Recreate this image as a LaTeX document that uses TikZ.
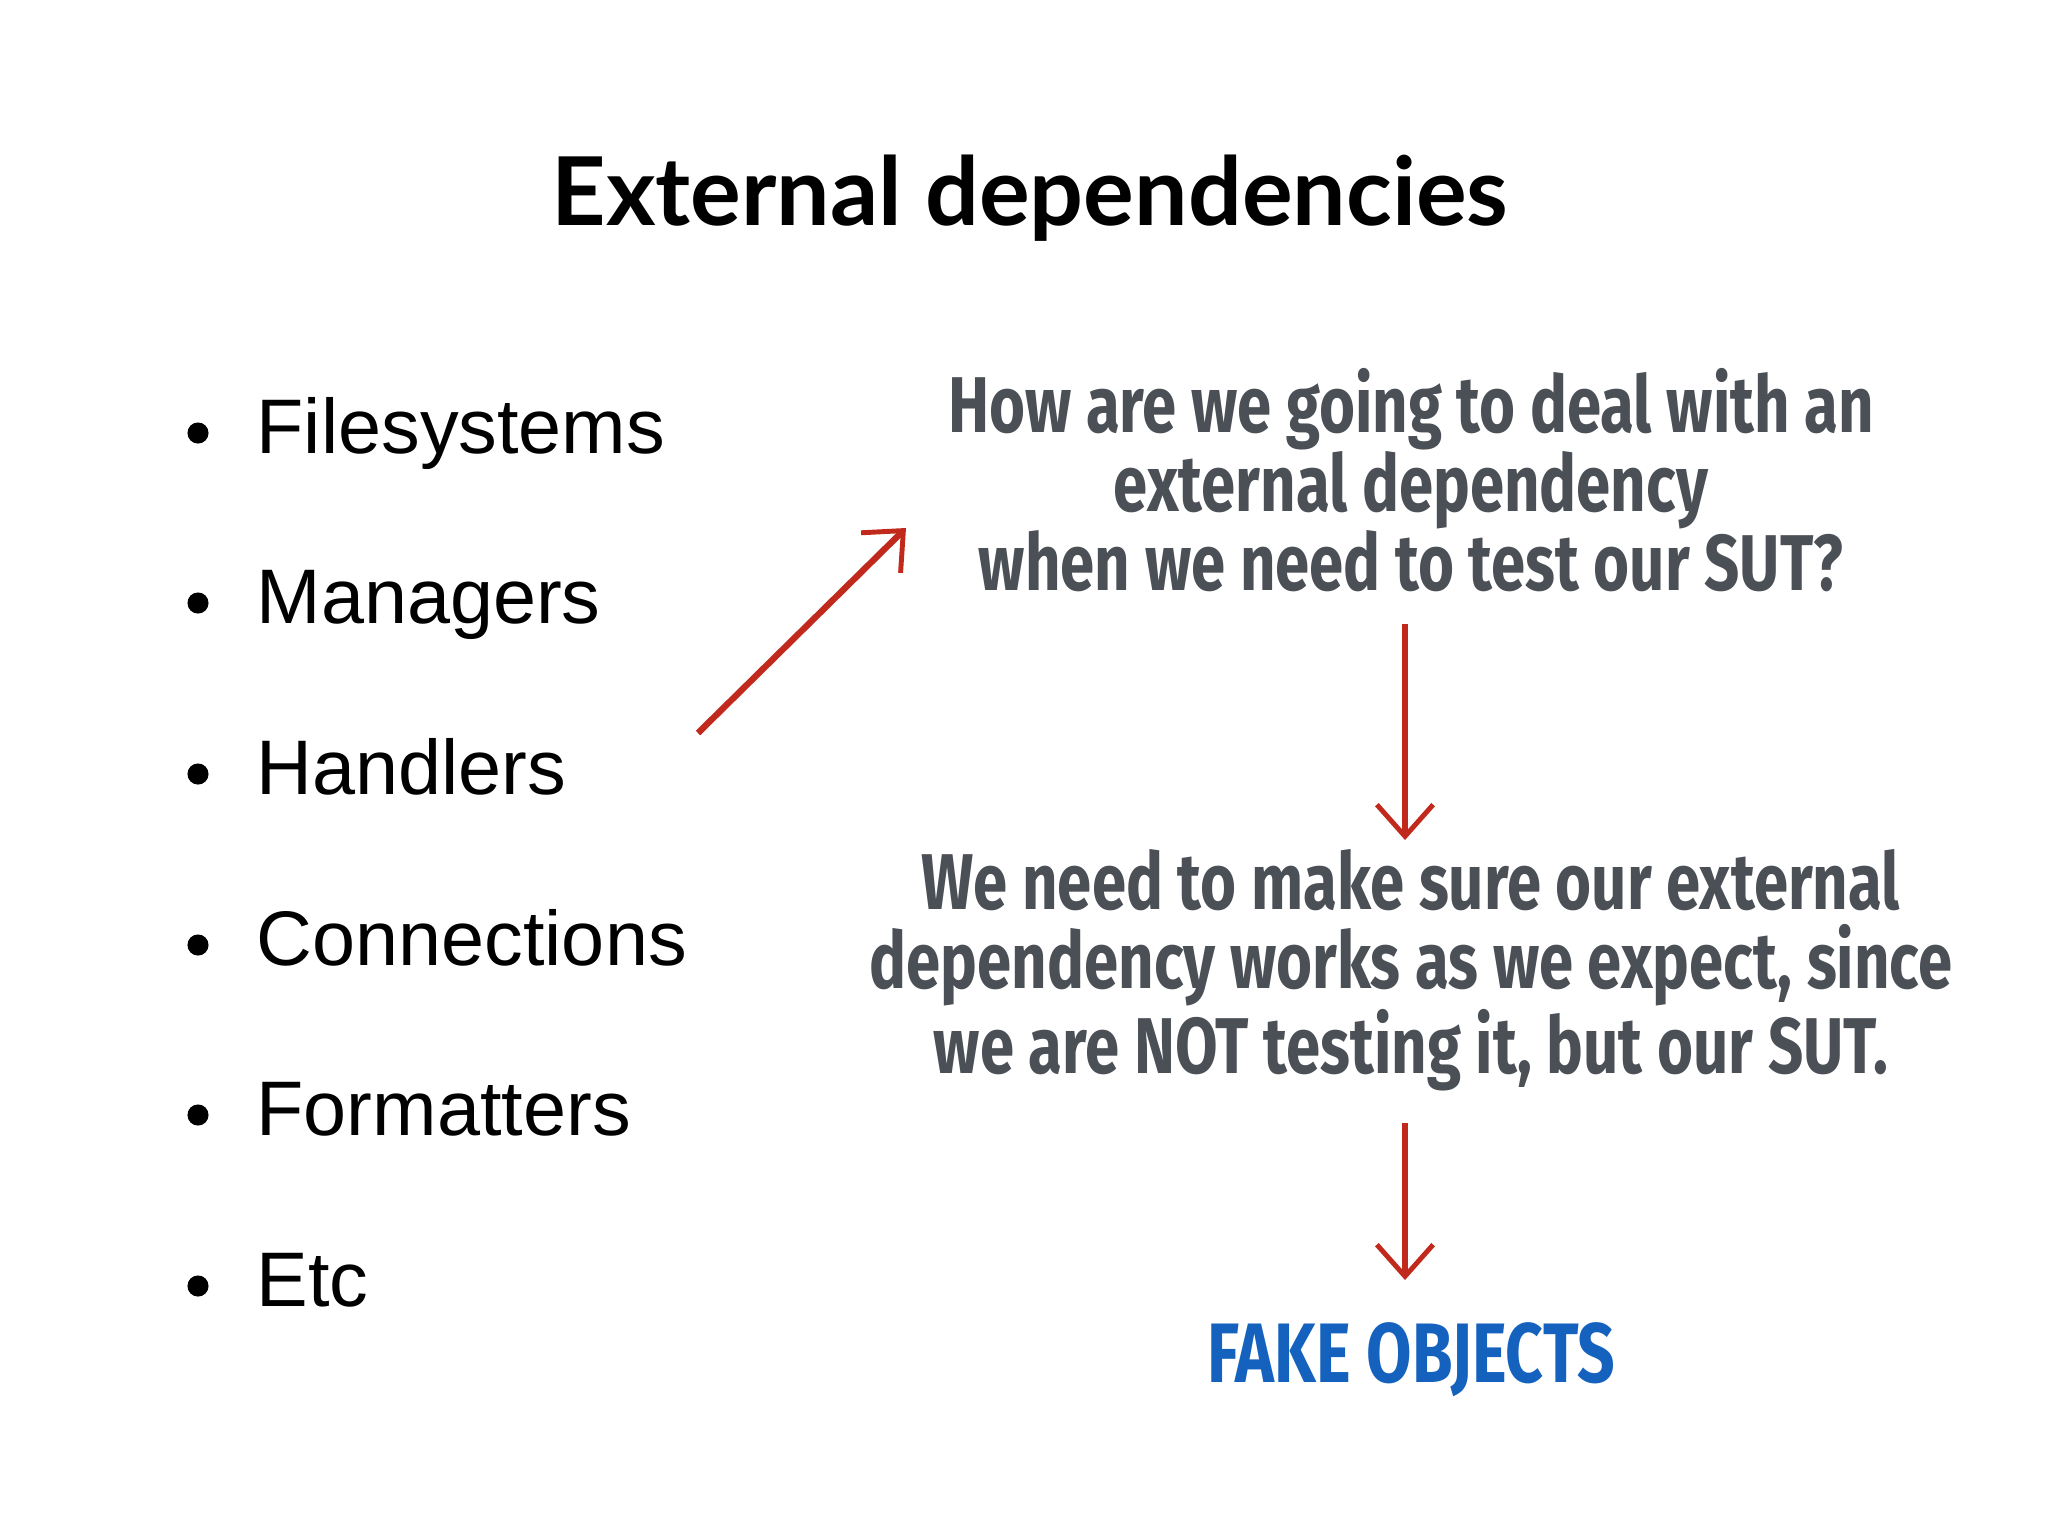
\documentclass[tikz,border=0pt]{standalone}
\usepackage{fontspec}
\setmainfont{Open Sans}
\newfontfamily\bulfont{Liberation Sans}
\newfontfamily\titlefont{Lato}
\newfontfamily\handfont[FakeStretch=0.78]{Fira Sans}
\usetikzlibrary{arrows.meta}
\definecolor{handgray}{HTML}{4B4F56}
\definecolor{arrred}{HTML}{C0291C}
\definecolor{fakeblue}{HTML}{1462BE}
\begin{document}
\begin{tikzpicture}[x=0.01cm,y=-0.01cm,
  bul/.style={anchor=base west,inner sep=0pt,font=\bulfont\fontsize{22}{27}\selectfont},
  hand/.style={align=center,text=handgray,font=\handfont\bfseries\fontsize{22.5}{22.5}\selectfont},
  redarr/.style={draw=arrred,line width=1.8pt,-{Straight Barb[length=9pt,width=16pt,line width=1.4pt]}}]
\useasboundingbox (0,0) rectangle (2048,1536);
\node[font=\titlefont\bfseries\fontsize{27}{32}\selectfont] (title) at (1030,198) {External dependencies};
\foreach \t/\y [count=\i] in {Filesystems/453,Managers/623,Handlers/794,Connections/965,Formatters/1135,Etc/1306}{
  \node[bul] (b\i) at (256,\y) {\t};
  \fill (198,\y-20) circle[radius=3pt];
}
\node[hand] (q) at (1411,480) {How are we going to deal with an\\external dependency\\when we need to test our SUT?};
\node[hand] (w) at (1411,970) {We need to make sure our external\\dependency works as we expect, since\\we are NOT testing it, but our SUT.};
\node[text=fakeblue,font=\handfont\bfseries\fontsize{24}{30}\selectfont] (f) at (1411,1360) {FAKE OBJECTS};
\coordinate (s) at (698,733);
\coordinate (e) at (906,528);
\draw[redarr] (s) -- (e);
\draw[redarr] (1405,624) -- (1405,840);
\draw[redarr] (1405,1123) -- (1405,1280);
\end{tikzpicture}
\end{document}
